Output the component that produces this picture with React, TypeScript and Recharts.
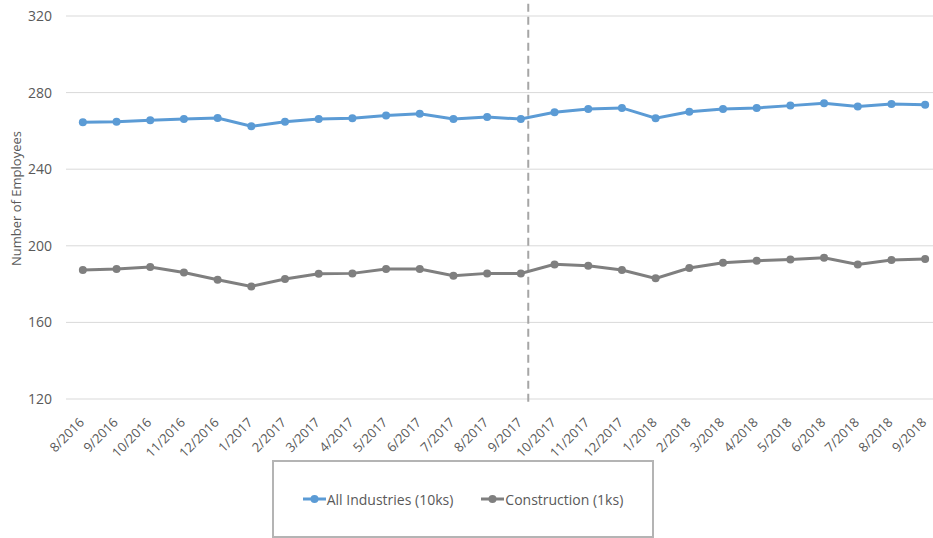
import React from 'react';
import {
  LineChart,
  Line,
  XAxis,
  YAxis,
  CartesianGrid,
  ReferenceLine,
  Legend,
} from 'recharts';

const MONTHS = [
  '8/2016', '9/2016', '10/2016', '11/2016', '12/2016', '1/2017', '2/2017',
  '3/2017', '4/2017', '5/2017', '6/2017', '7/2017', '8/2017', '9/2017',
  '10/2017', '11/2017', '12/2017', '1/2018', '2/2018', '3/2018', '4/2018',
  '5/2018', '6/2018', '7/2018', '8/2018', '9/2018',
];

// All industries, tens of thousands
const ALL_INDUSTRIES = [
  264.5, 264.8, 265.5, 266.2, 266.7, 262.4, 264.8, 266.2, 266.6, 268.0,
  269.0, 266.2, 267.2, 266.2, 269.7, 271.4, 272.0, 266.6, 270.0, 271.4,
  272.0, 273.2, 274.4, 272.8, 274.0, 273.7,
];

// Construction, thousands
const CONSTRUCTION = [
  187.4, 187.9, 188.9, 186.1, 182.3, 178.8, 182.7, 185.4, 185.6, 187.9,
  187.9, 184.4, 185.6, 185.6, 190.3, 189.6, 187.4, 183.0, 188.4, 191.2,
  192.2, 192.9, 193.8, 190.3, 192.6, 193.1,
];

const Y_TICKS = [120, 160, 200, 240, 280, 320];

// marks the change between the two periods (just after 9/2017)
const SPLIT_AT = 13.22;

const BLUE = '#5b9bd5';
const GRAY = '#7f7f7f';
const TEXT = '#595959';
const FONT = '"Open Sans", sans-serif';

const data = MONTHS.map((month, i) => ({
  idx: i,
  month,
  all: ALL_INDUSTRIES[i],
  cons: CONSTRUCTION[i],
}));

const MonthTick = ({ x, y, payload }: any) => (
  <g transform={`translate(${x},${y})`}>
    <text
      transform="rotate(-45)"
      x={-10}
      y={13}
      textAnchor="end"
      fill={TEXT}
      fontSize={13}
      fontFamily={FONT}
    >
      {MONTHS[payload.value]}
    </text>
  </g>
);

const AxisTitle = ({ viewBox }: any) => {
  const cx = viewBox.x + 16;
  const cy = viewBox.y + viewBox.height / 2 - 9;
  return (
    <text
      x={cx}
      y={cy}
      transform={`rotate(-90, ${cx}, ${cy})`}
      textAnchor="middle"
      dominantBaseline="central"
      fill={TEXT}
      fontSize={13}
      fontFamily={FONT}
    >
      Number of Employees
    </text>
  );
};

const LegendBox = ({ payload }: any) => (
  <div
    style={{
      width: 382,
      height: 78,
      boxSizing: 'border-box',
      border: '2px solid #b4b4b4',
      display: 'flex',
      alignItems: 'center',
      justifyContent: 'center',
      gap: 28,
      fontFamily: FONT,
      fontSize: 14,
      color: TEXT,
    }}
  >
    {payload.map((item: any) => (
      <div key={item.value} style={{ display: 'flex', alignItems: 'center' }}>
        <svg width={23} height={10} style={{ marginRight: 1 }}>
          <line x1={0} y1={5} x2={23} y2={5} stroke={item.color} strokeWidth={3} />
          <circle cx={11.5} cy={5} r={4} fill={item.color} />
        </svg>
        <span>{item.value}</span>
      </div>
    ))}
  </div>
);

export default function App() {
  return (
    <div
      style={{
        position: 'absolute',
        left: 0,
        top: 0,
        width: 933,
        height: 538,
        overflow: 'hidden',
        background: '#fff',
      }}
    >
      <LineChart
        width={942}
        height={538}
        data={data}
        margin={{ top: 16, right: 0, bottom: 0, left: 0 }}
      >
        <CartesianGrid stroke="#d9d9d9" vertical={false} />
        <XAxis
          dataKey="idx"
          type="number"
          domain={[-0.5, MONTHS.length - 0.5]}
          ticks={MONTHS.map((_, i) => i)}
          interval={0}
          tick={<MonthTick />}
          axisLine={false}
          tickLine={false}
          height={139}
        />
        <YAxis
          domain={[120, 320]}
          ticks={Y_TICKS}
          width={66}
          axisLine={false}
          tickLine={false}
          tickMargin={8}
          tick={{ fill: TEXT, fontSize: 14, fontFamily: FONT }}
          label={{ content: <AxisTitle /> }}
        />
        <ReferenceLine
          segment={[
            { x: SPLIT_AT, y: 118.5 },
            { x: SPLIT_AT, y: 328.5 },
          ]}
          stroke="#a6a6a6"
          strokeWidth={2}
          strokeDasharray="8 5"
          ifOverflow="visible"
        />
        <Line
          name="All Industries (10ks)"
          dataKey="all"
          stroke={BLUE}
          strokeWidth={3}
          dot={{ r: 4, fill: BLUE, stroke: BLUE, strokeWidth: 0 }}
          isAnimationActive={false}
        />
        <Line
          name="Construction (1ks)"
          dataKey="cons"
          stroke={GRAY}
          strokeWidth={3}
          dot={{ r: 4, fill: GRAY, stroke: GRAY, strokeWidth: 0 }}
          isAnimationActive={false}
        />
        <Legend
          layout="horizontal"
          verticalAlign="middle"
          content={<LegendBox />}
          wrapperStyle={{ top: 460, left: 272, width: 382, height: 78 }}
        />
      </LineChart>
    </div>
  );
}
